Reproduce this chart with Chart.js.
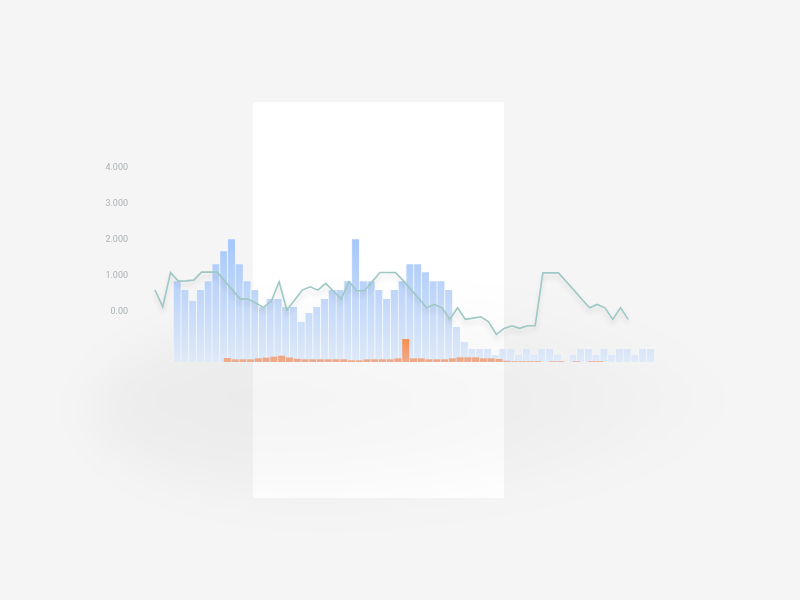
<!DOCTYPE html>
<html>
<head>
<meta charset="utf-8">
<script src="https://cdn.jsdelivr.net/npm/chart.js@4"></script>
<style>
  html, body { margin: 0; padding: 0; }
  body { width: 800px; height: 600px; background: #f5f5f5; position: relative; overflow: hidden; }
  .card { position: absolute; left: 253px; top: 102px; width: 251px; height: 396px; background: #ffffff; z-index: 0; }
  .shade {
    position: absolute; left: 90px; top: 300px; width: 640px; height: 220px; border-radius: 50%;
    background: radial-gradient(ellipse at 30% 45%, rgba(0,0,0,0.045) 0%, rgba(0,0,0,0.022) 45%, rgba(0,0,0,0) 72%);
    filter: blur(22px); z-index: 1;
  }
  #chart { position: absolute; left: 0; top: 0; z-index: 2; }
</style>
</head>
<body>
<div class="card"></div>
<div class="shade"></div>
<canvas id="chart" width="800" height="600"></canvas>
<script>
// 數據
const categories = Array.from({ length: 62 }, (_, i) => 'W' + (i + 1));

const blueValues = [
  2256, 2006, 1699, 2006, 2256, 2730, 3092, 3426, 2730, 2256,
  2006, 1532, 1755, 1755, 1532, 1532, 1114, 1365, 1532, 1755,
  2006, 2006, 2256, 3426, 2256, 2256, 2006, 1755, 2006, 2256,
  2730, 2730, 2507, 2256, 2256, 2006, 975, 557, 362, 362,
  362, 195, 362, 362, 195, 362, 195, 362, 362, 195,
  null, 195, 362, 362, 195, 362, 195, 362, 362, 195,
  362, 362
];

// 橘色柱 (位於兩根藍柱之間)
const orangeValues = [
  null, null, null, null, null, null, null, 111, 75, 75,
  75, 103, 120, 148, 175, 125, 90, 75, 75, 75,
  75, 75, 75, 47, 47, 75, 75, 75, 75, 103,
  640, 103, 103, 75, 75, 75, 103, 131, 131, 131,
  103, 103, 85, 35, 22, 22, 22, 22, null, 22,
  22, null, 22, null, 22, 22, null, null, null, null,
  null, null, null
];

const lineValues = [
  593, 128, 1086, 844, 852, 872, 1095, 1095, 1095, 844,
  593, 343, 343, 231, 111, 287, 825, 36, 315, 593,
  685, 593, 780, 565, 343, 830, 574, 574, 830, 1086,
  1086, 1081, 858, 607, 357, 100, 195, 100, -223, 100,
  -223, -187, -150, -290, -641, -474, -401, -474, -401, -401,
  1075, 1075, 1075, 836, 593, 348, 100, 195, 100, -223,
  100, -223
];

const yTicks = [0, 1000, 2000, 3000, 4000];

const Y_MIN = -1412;
const Y_MAX = 4000;
const LINE_SHIFT = -2.32;

function blueFill(context) {
  const chart = context.chart;
  const area = chart.chartArea;
  if (!area) return '#bcd4fa';
  const top = chart.scales.y2.getPixelForValue(Math.max(...blueValues));
  const g = chart.ctx.createLinearGradient(0, top, 0, area.bottom);
  g.addColorStop(0, '#a6c7fb');
  g.addColorStop(1, '#dfe9f8');
  return g;
}

function orangeFill(context) {
  const chart = context.chart;
  const area = chart.chartArea;
  if (!area) return '#eea684';
  const top = chart.scales.y2.getPixelForValue(Math.max(...orangeValues));
  const g = chart.ctx.createLinearGradient(0, top, 0, area.bottom);
  g.addColorStop(0, '#f88d4b');
  g.addColorStop(1, '#eeac8d');
  return g;
}

// 折線陰影
const lineShadow = {
  id: 'lineShadow',
  beforeDatasetDraw(chart, args) {
    if (args.meta.type !== 'line') return;
    const ctx = chart.ctx;
    ctx.save();
    ctx.shadowColor = 'rgba(0, 0, 0, 0.13)';
    ctx.shadowBlur = 5;
    ctx.shadowOffsetY = 4;
  },
  afterDatasetDraw(chart, args) {
    if (args.meta.type !== 'line') return;
    chart.ctx.restore();
  }
};

new Chart(document.getElementById('chart'), {
  type: 'bar',
  data: {
    labels: categories,
    datasets: [
      {
        type: 'line',
        data: lineValues.map((v, i) => ({ x: i + LINE_SHIFT, y: v })),
        xAxisID: 'xo',
        yAxisID: 'y',
        borderColor: '#9dc8c3',
        borderWidth: 1.6,
        pointRadius: 0,
        tension: 0,
        fill: false,
        clip: false,
        order: 0
      },
      {
        data: orangeValues
          .map((v, k) => (v === null ? null : { x: k, y: v }))
          .filter((p) => p !== null),
        xAxisID: 'xo',
        yAxisID: 'y2',
        backgroundColor: orangeFill,
        borderWidth: 0,
        grouped: false,
        categoryPercentage: 1,
        barPercentage: 0.9,
        order: 1
      },
      {
        data: blueValues,
        xAxisID: 'x',
        yAxisID: 'y2',
        backgroundColor: blueFill,
        borderColor: 'rgba(242, 247, 254, 0.85)',
        borderWidth: { top: 0, right: 0, bottom: 0, left: 1 },
        borderSkipped: false,
        grouped: false,
        categoryPercentage: 1,
        barPercentage: 1,
        order: 2
      }
    ]
  },
  options: {
    responsive: false,
    animation: false,
    layout: { padding: { left: 0, right: 146, top: 168, bottom: 238 } },
    plugins: {
      legend: { display: false },
      tooltip: { enabled: false }
    },
    scales: {
      x: {
        type: 'category',
        display: false,
        offset: true
      },
      xo: {
        type: 'linear',
        display: false,
        offset: false,
        bounds: 'data',
        afterDataLimits(scale) {
          scale.min = 0;
          scale.max = blueValues.length;
        }
      },
      y: {
        position: 'left',
        min: Y_MIN,
        max: Y_MAX,
        grid: { display: false, drawTicks: false },
        border: { display: false },
        afterBuildTicks(scale) {
          scale.ticks = yTicks.map((v) => ({ value: v }));
        },
        afterFit(scale) {
          scale.width = 173;
        },
        ticks: {
          padding: 45,
          color: '#abb1b5',
          font: { family: 'Roboto', size: 9 },
          callback: (v) => (v === 0 ? '0.00' : (v / 1000).toFixed(3))
        }
      },
      y2: {
        display: false,
        min: 0,
        max: Y_MAX - Y_MIN
      }
    }
  },
  plugins: [lineShadow]
});
</script>
</body>
</html>
